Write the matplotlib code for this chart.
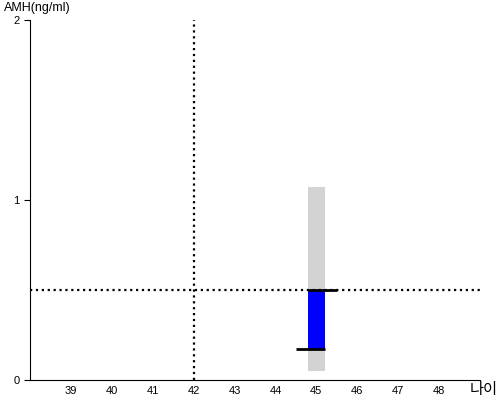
import matplotlib.pyplot as plt

plt.rcParams['font.family'] = ['Liberation Sans', 'Noto Sans CJK KR', 'DejaVu Sans']

ages = [39, 40, 41, 42, 43, 44, 45, 46, 47, 48]
y_ticks = [0, 1, 2]

# measured point
age = 45
range_low, range_high = 0.05, 1.07
amh_low, amh_high = 0.17, 0.5
ref_age = 42
ref_amh = 0.5

fig = plt.figure(figsize=(5, 4), dpi=100)
ax = fig.add_axes([0.06, 0.05, 0.90, 0.90])

ax.bar(age, range_high - range_low, bottom=range_low, width=0.4, color='lightgray', zorder=1)
ax.bar(age, amh_high - amh_low, bottom=amh_low, width=0.4, color='blue', zorder=2)
ax.hlines(amh_high, age - 0.2, age + 0.5, color='black', linewidth=2, zorder=3)
ax.hlines(amh_low, age - 0.5, age + 0.2, color='black', linewidth=2, zorder=3)

ax.axhline(ref_amh, color='black', linestyle=':', linewidth=1.6, zorder=2.5)
ax.axvline(ref_age, color='black', linestyle=':', linewidth=1.6, zorder=2.5)

ax.set_xlim(38, 49)
ax.set_ylim(0, 2)
ax.set_xticks(ages)
ax.set_yticks(y_ticks)
ax.tick_params(axis='x', length=0, labelsize=8, pad=4)
ax.tick_params(axis='y', length=4, labelsize=8)
ax.spines['top'].set_visible(False)
ax.spines['right'].set_visible(False)

fig.text(0.008, 0.995, 'AMH(ng/ml)', ha='left', va='top', fontsize=9)
fig.text(0.996, 0.004, '나이', ha='right', va='bottom', fontsize=11,
         family=['Noto Sans CJK KR', 'DejaVu Sans'])

fig.savefig('out.png')
